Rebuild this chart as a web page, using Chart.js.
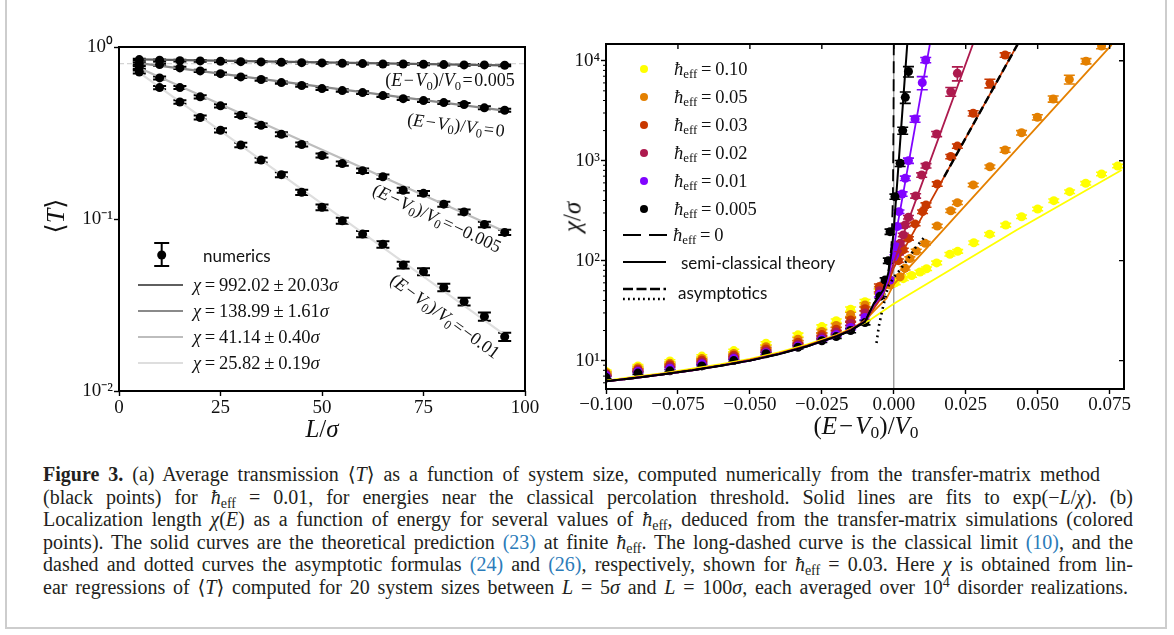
<!DOCTYPE html>
<html>
<head>
<meta charset="utf-8">
<title>Figure 3</title>
<script src="https://cdn.jsdelivr.net/npm/chart.js@4.4.1/dist/chart.umd.min.js"></script>
<style>
  html, body { margin: 0; padding: 0; background: #fff; }
  body { position: relative; width: 1174px; height: 635px; overflow: hidden;
         font-family: "Liberation Serif", "DejaVu Serif", serif; color: #111; }
  #frame { position: absolute; left: 5px; top: -10px; width: 1162px; height: 639px;
           border: 2px solid #cdcdcd; box-sizing: border-box; }
  canvas { position: absolute; top: 0; }
  .t { position: absolute; white-space: nowrap; line-height: 1; }
  .c { transform: translate(-50%, -50%); }
  .l { transform: translate(0, -50%); }
  .sans { font-family: Lato, "Open Sans", sans-serif; font-size: 17px; }
  .math { font-family: "Liberation Serif", serif; font-size: 18px; }
  .leg { font-family: "Liberation Serif", serif; font-size: 18.5px; }
  sub { font-size: 0.7em; vertical-align: -0.28em; line-height: 0; }
  sup { font-size: 0.7em; vertical-align: 0.5em; line-height: 0; }
  .dot { position: absolute; width: 8px; height: 8px; border-radius: 50%; transform: translate(-50%, -50%); }
  svg.k { position: absolute; overflow: visible; }
  .cap { position: absolute; left: 43px; white-space: nowrap; font-size: 20px; line-height: 22.6px; color: #231f20; }
  .cap a { color: #2b7bb9; text-decoration: none; }
</style>
</head>
<body>
<div id="frame"></div>
<canvas id="cA" width="560" height="440" style="left:0"></canvas>
<canvas id="cB" width="614" height="440" style="left:560px"></canvas>

<!-- panel (a) texts -->
<div class="t c" style="left:56px;top:216px;font-size:26px;transform:translate(-50%,-50%) rotate(-90deg)">⟨<i>T</i>⟩</div>
<div class="t c" style="left:322px;top:428px;font-size:25px"><i>L</i>/<i>σ</i></div>
<div class="t c math" style="left:450px;top:80px">(<i>E</i>&#8202;−&#8202;<i>V</i><sub>0</sub>)/<i>V</i><sub>0</sub>&#8202;=&#8202;0.005</div>
<div class="t math" style="left:456px;top:125px;transform:translate(-50%,-50%) rotate(7deg)">(<i>E</i>&#8202;−&#8202;<i>V</i><sub>0</sub>)/<i>V</i><sub>0</sub>&#8202;=&#8202;0</div>
<div class="t math" style="left:437px;top:218px;transform:translate(-50%,-50%) rotate(25deg)">(<i>E</i>&#8202;−&#8202;<i>V</i><sub>0</sub>)/<i>V</i><sub>0</sub>&#8202;=&#8202;−0.005</div>
<div class="t math" style="left:445px;top:316px;transform:translate(-50%,-50%) rotate(36deg)">(<i>E</i>&#8202;−&#8202;<i>V</i><sub>0</sub>)/<i>V</i><sub>0</sub>&#8202;=&#8202;−0.01</div>

<svg class="k" style="left:152px;top:241px" width="20" height="28">
  <line x1="9.7" y1="2" x2="9.7" y2="25" stroke="#000" stroke-width="2"/>
  <line x1="2.2" y1="2" x2="17.2" y2="2" stroke="#000" stroke-width="2"/>
  <line x1="2.2" y1="25" x2="17.2" y2="25" stroke="#000" stroke-width="2"/>
  <circle cx="9.7" cy="14" r="4.5" fill="#000"/>
</svg>
<div class="t l sans" style="left:203px;top:255px">numerics</div>
<svg class="k" style="left:138px;top:280px" width="46" height="10"><line x1="0" y1="5" x2="45" y2="5" stroke="#5f5f5f" stroke-width="2.2"/></svg>
<svg class="k" style="left:138px;top:306px" width="46" height="10"><line x1="0" y1="5" x2="45" y2="5" stroke="#8a8a8a" stroke-width="2.2"/></svg>
<svg class="k" style="left:138px;top:332px" width="46" height="10"><line x1="0" y1="5" x2="45" y2="5" stroke="#bdbdbd" stroke-width="2.2"/></svg>
<svg class="k" style="left:138px;top:358px" width="46" height="10"><line x1="0" y1="5" x2="45" y2="5" stroke="#dedede" stroke-width="2.2"/></svg>
<div class="t l leg" style="left:193px;top:285px"><i>χ</i>&#8201;=&#8201;992.02&#8201;±&#8201;20.03<i>σ</i></div>
<div class="t l leg" style="left:193px;top:311px"><i>χ</i>&#8201;=&#8201;138.99&#8201;±&#8201;1.61<i>σ</i></div>
<div class="t l leg" style="left:193px;top:337px"><i>χ</i>&#8201;=&#8201;41.14&#8201;±&#8201;0.40<i>σ</i></div>
<div class="t l leg" style="left:193px;top:363px"><i>χ</i>&#8201;=&#8201;25.82&#8201;±&#8201;0.19<i>σ</i></div>

<!-- panel (b) texts -->
<div class="t c" style="left:866px;top:425px;font-size:25px">(<i>E</i>&#8202;−&#8202;<i>V</i><sub>0</sub>)/<i>V</i><sub>0</sub></div>
<div class="t" style="left:572px;top:217px;font-size:25px;transform:translate(-50%,-50%) rotate(-90deg)"><i>χ</i>/<i>σ</i></div>

<div class="dot" style="left:644px;top:69px;background:#ffff00"></div>
<div class="dot" style="left:644px;top:97px;background:#e48000"></div>
<div class="dot" style="left:644px;top:125px;background:#c83800"></div>
<div class="dot" style="left:644px;top:153px;background:#ad1a4e"></div>
<div class="dot" style="left:644px;top:181px;background:#8004ff"></div>
<div class="dot" style="left:644px;top:209px;background:#000"></div>
<div class="t l leg" style="left:674px;top:69px"><i>ħ</i><sub>eff</sub>&#8201;=&#8201;0.10</div>
<div class="t l leg" style="left:674px;top:97px"><i>ħ</i><sub>eff</sub>&#8201;=&#8201;0.05</div>
<div class="t l leg" style="left:674px;top:125px"><i>ħ</i><sub>eff</sub>&#8201;=&#8201;0.03</div>
<div class="t l leg" style="left:674px;top:153px"><i>ħ</i><sub>eff</sub>&#8201;=&#8201;0.02</div>
<div class="t l leg" style="left:674px;top:181px"><i>ħ</i><sub>eff</sub>&#8201;=&#8201;0.01</div>
<div class="t l leg" style="left:674px;top:209px"><i>ħ</i><sub>eff</sub>&#8201;=&#8201;0.005</div>
<svg class="k" style="left:623px;top:230px" width="45" height="10"><line x1="0" y1="5" x2="44" y2="5" stroke="#000" stroke-width="2.2" stroke-dasharray="18 8"/></svg>
<div class="t l leg" style="left:673px;top:235px"><i>ħ</i><sub>eff</sub>&#8201;=&#8201;0</div>
<svg class="k" style="left:623px;top:257px" width="45" height="10"><line x1="0" y1="5" x2="43" y2="5" stroke="#000" stroke-width="2"/></svg>
<div class="t l sans" style="left:681px;top:262px">semi-classical theory</div>
<svg class="k" style="left:623px;top:284px" width="45" height="20">
  <line x1="0" y1="5" x2="43" y2="5" stroke="#000" stroke-width="2.4" stroke-dasharray="10 3.5"/>
  <line x1="0" y1="15" x2="43" y2="15" stroke="#000" stroke-width="2.4" stroke-dasharray="1.8 3.2"/>
</svg>
<div class="t l sans" style="left:678px;top:292px">asymptotics</div>

<!-- caption -->
<div class="cap" style="top:463px" data-w="1057"><span><b>Figure 3.</b> (a) Average transmission ⟨<i>T</i>⟩ as a function of system size, computed numerically from the transfer-matrix method</span></div>
<div class="cap" style="top:485.6px" data-w="1090"><span>(black points) for <i>ħ</i><sub>eff</sub> = 0.01, for energies near the classical percolation threshold. Solid lines are fits to exp(−<i>L</i>/<i>χ</i>). (b)</span></div>
<div class="cap" style="top:508.2px" data-w="1090"><span>Localization length <i>χ</i>(<i>E</i>) as a function of energy for several values of <i>ħ</i><sub>eff</sub>, deduced from the transfer-matrix simulations (colored</span></div>
<div class="cap" style="top:530.8px" data-w="1090"><span>points). The solid curves are the theoretical prediction <a>(23)</a> at finite <i>ħ</i><sub>eff</sub>. The long-dashed curve is the classical limit <a>(10)</a>, and the</span></div>
<div class="cap" style="top:553.4px" data-w="1090"><span>dashed and dotted curves the asymptotic formulas <a>(24)</a> and <a>(26)</a>, respectively, shown for <i>ħ</i><sub>eff</sub> = 0.03. Here <i>χ</i> is obtained from lin-</span></div>
<div class="cap" style="top:576px" data-w="1085"><span>ear regressions of ⟨<i>T</i>⟩ computed for 20 system sizes between <i>L</i> = 5<i>σ</i> and <i>L</i> = 100<i>σ</i>, each averaged over 10<sup>4</sup> disorder realizations.</span></div>

<script>
// ---------- panel (a): <T> vs L ----------
const sysL = [5, 10, 15, 20, 25, 30, 35, 40, 45, 50, 55, 60, 65, 70, 75, 80, 85, 90, 95];
const T_e005 = [0.845, 0.837, 0.833, 0.830, 0.826, 0.822, 0.819, 0.815, 0.811, 0.808, 0.804, 0.801, 0.797, 0.797, 0.794, 0.790, 0.787, 0.787, 0.783];
const T_e0 = [0.801, 0.790, 0.756, 0.726, 0.700, 0.670, 0.647, 0.621, 0.597, 0.573, 0.558, 0.543, 0.522, 0.501, 0.488, 0.475, 0.463, 0.443, 0.429];
const T_em005 = [0.759, 0.661, 0.581, 0.513, 0.455, 0.401, 0.351, 0.311, 0.271, 0.234, 0.210, 0.191, 0.176, 0.147, 0.141, 0.122, 0.110, 0.093, 0.0836];
const T_em01 = [0.716, 0.581, 0.479, 0.389, 0.328, 0.269, 0.220, 0.181, 0.143, 0.117, 0.0977, 0.0817, 0.0712, 0.054, 0.0494, 0.0400, 0.0331, 0.0271, 0.0207];
// relative error bars
const err_e005 = [0.012, 0.012, 0.012, 0.012, 0.012, 0.012, 0.012, 0.012, 0.012, 0.012, 0.012, 0.012, 0.012, 0.012, 0.012, 0.012, 0.012, 0.012, 0.012];
const err_e0 = [0.014, 0.014, 0.014, 0.015, 0.015, 0.015, 0.016, 0.016, 0.016, 0.017, 0.017, 0.017, 0.018, 0.018, 0.018, 0.019, 0.019, 0.02, 0.02];
const err_em005 = [0.018, 0.02, 0.02, 0.022, 0.022, 0.024, 0.024, 0.026, 0.026, 0.028, 0.028, 0.03, 0.03, 0.032, 0.032, 0.034, 0.034, 0.036, 0.036];
const err_em01 = [0.02, 0.022, 0.024, 0.026, 0.028, 0.03, 0.032, 0.034, 0.036, 0.038, 0.04, 0.042, 0.044, 0.046, 0.048, 0.05, 0.052, 0.054, 0.055];
// fit lines exp(-L/chi), read at both ends
const fitL = [5, 95];
const fit_e005 = [0.847, 0.781];
const fit_e0 = [0.805, 0.427];
const fit_em005 = [0.755, 0.0845];
const fit_em01 = [0.71, 0.0212];
const refLevel = 0.8;
const xTicksA = [0, 25, 50, 75, 100];
const yTicksA = [0.01, 0.1, 1];

// ---------- panel (b): chi vs (E-V0)/V0 ----------
const hbarColors = { h010: '#ffff00', h005: '#e48000', h003: '#c83800', h002: '#ad1a4e', h001: '#8004ff', h0005: '#000000' };
const negE = [-0.1, -0.0889, -0.0778, -0.0667, -0.0556, -0.0444, -0.0333, -0.025, -0.02, -0.015, -0.01, -0.005];
const negErr = [0.03, 0.03, 0.03, 0.03, 0.03, 0.035, 0.04, 0.04, 0.04, 0.05, 0.05, 0.06];
const chi010neg = [7.8, 8.85, 9.9, 11.1, 12.6, 14.9, 18.1, 21.9, 25.1, 32.7, 38.9, 49];
const chi005neg = [7.6, 8.5, 9.4, 10.5, 11.8, 13.8, 16.4, 19.6, 22.5, 29, 36, 52];
const chi003neg = [7.4, 8.2, 9.1, 10.1, 11.3, 13.1, 15.3, 18.2, 20.6, 25.5, 33, 55];
const chi002neg = [7.3, 8.0, 8.8, 9.7, 10.9, 12.5, 14.5, 17.2, 19.3, 23.5, 30, 50];
const chi001neg = [7.1, 7.8, 8.4, 9.3, 10.5, 12.0, 14.0, 16.4, 18.2, 21.5, 27, 46];
const chi0005neg = [6.8, 7.5, 7.9, 8.85, 10, 11.7, 13.6, 15.8, 17.4, 20, 24];
// [x, chi, relative error]
const chi010pos = [[0.0005, 60, 0.04], [0.0033, 66, 0.04], [0.0062, 71, 0.04], [0.0091, 77, 0.04], [0.0114, 83, 0.04], [0.0149, 95, 0.04], [0.0195, 116, 0.04], [0.0222, 124, 0.04], [0.0278, 151, 0.04], [0.0333, 184, 0.04], [0.0389, 227, 0.04], [0.0444, 275, 0.04], [0.05, 329, 0.04], [0.0556, 398, 0.04], [0.0611, 490, 0.04], [0.0667, 594, 0.04], [0.0722, 736, 0.04], [0.0778, 885, 0.04]];
const chi005pos = [[-0.0013, 57, 0.04], [0.0022, 69, 0.04], [0.0039, 84, 0.04], [0.0056, 105, 0.04], [0.0078, 125, 0.04], [0.0109, 149, 0.04], [0.0151, 222, 0.04], [0.0198, 316, 0.04], [0.0221, 380, 0.04], [0.0276, 572, 0.04], [0.0334, 870, 0.04], [0.0387, 1280, 0.05], [0.0444, 1905, 0.05], [0.0499, 2720, 0.06], [0.0554, 4140, 0.07], [0.061, 6500, 0.1], [0.0668, 9900, 0.06], [0.0722, 14000, 0.06]];
const chi003pos = [[-0.0013, 64, 0.04], [0.0016, 100, 0.04], [0.0033, 128, 0.04], [0.0051, 167, 0.04], [0.0074, 233, 0.04], [0.01, 309, 0.04], [0.0112, 360, 0.05], [0.0151, 585, 0.05], [0.0198, 1100, 0.05], [0.0221, 1400, 0.05], [0.0276, 2980, 0.06], [0.0334, 5940, 0.1], [0.0387, 11400, 0.05]];
const chi002pos = [[0.0016, 119, 0.04], [0.0022, 149, 0.04], [0.0033, 181, 0.04], [0.0039, 227, 0.04], [0.0051, 272, 0.04], [0.0076, 444, 0.05], [0.0097, 720, 0.05], [0.0112, 890, 0.05], [0.0149, 1850, 0.06], [0.0198, 4900, 0.1], [0.0221, 7480, 0.16]];
const chi001pos = [[-0.0013, 64, 0.04], [0.0004, 110, 0.04], [0.0008, 138, 0.04], [0.0012, 219, 0.04], [0.0018, 309, 0.04], [0.0029, 464, 0.05], [0.004, 667, 0.05], [0.0051, 1000, 0.06], [0.0074, 2610, 0.07], [0.0099, 6030, 0.15], [0.0111, 10160, 0.06]];
const chi0005pos = [[-0.0048, 44, 0.05], [-0.003, 64, 0.05], [-0.0019, 100, 0.06], [-0.0013, 195, 0.06], [0.0004, 437, 0.06], [0.0022, 940, 0.07], [0.0031, 2000, 0.08], [0.004, 4300, 0.13], [0.0051, 7800, 0.12]];

// theory curves: shared negative-side abscissae + tail [x, chi]
const curveX = [-0.1, -0.09, -0.08, -0.07, -0.06, -0.05, -0.04, -0.03, -0.02, -0.015, -0.01];
const th0005neg = [6.2, 6.7, 7.3, 8.0, 8.9, 10.0, 11.6, 13.9, 17.4, 20.0, 24.5];
const th0005tail = [[-0.007, 37], [-0.0036, 51], [-0.0019, 75], [-0.0008, 120], [0, 203], [0.0025, 2000], [0.0047, 14900]];
const th001neg = [6.2, 6.7, 7.3, 8.0, 8.9, 10.0, 11.6, 13.9, 17.4, 20.0, 24.5];
const th001tail = [[-0.007, 36], [-0.004, 46], [-0.002, 63], [0, 130], [0.001, 203], [0.0126, 14900]];
const th002neg = [6.2, 6.7, 7.3, 8.0, 8.9, 10.0, 11.7, 14.0, 17.5, 20.2, 24.8];
const th002tail = [[-0.007, 35], [-0.004, 44], [-0.0014, 72], [0.0039, 203], [0.0276, 14900]];
const th003neg = [6.2, 6.7, 7.3, 8.0, 8.9, 10.1, 11.7, 14.1, 17.6, 20.4, 25];
const th003tail = [[-0.007, 33], [-0.005, 40], [-0.002, 58], [0, 85], [0.0073, 203], [0.0432, 14900]];
const th005neg = [6.2, 6.8, 7.4, 8.1, 9.0, 10.2, 11.8, 14.2, 17.8, 20.6, 25.2];
const th005tail = [[-0.007, 31], [-0.0025, 42], [0, 58], [0.0172, 203], [0.0757, 14400]];
const th010neg = [6.3, 6.9, 7.5, 8.3, 9.2, 10.4, 12.1, 14.5, 18.0, 20.8, 24.0];
const th010tail = [[-0.0083, 25.5], [0, 37], [0.0427, 203], [0.0792, 807]];
const classicalTail = [[-0.007, 37], [-0.0036, 51], [-0.0019, 78], [-0.0008, 140], [-0.0003, 450], [-0.0001, 2500], [0, 15000]];
const asymDashed = [[0.0175, 690], [0.0432, 14900]];
const asymDotted = [[-0.006, 15], [-0.0052, 22], [-0.004, 32], [-0.002, 55], [0, 68], [0.0022, 81], [0.0045, 100], [0.0074, 133], [0.0105, 170]];
const xTicksB = [-0.1, -0.075, -0.05, -0.025, 0, 0.025, 0.05, 0.075];
const yTicksB = [10, 100, 1000, 10000];

// ---------- helpers ----------
const SUP = { '-': '⁻', '0': '⁰', '1': '¹', '2': '²', '3': '³', '4': '⁴' };
const pow10 = v => '10' + String(Math.round(Math.log10(v))).split('').map(c => SUP[c]).join('');
const dec3 = v => (v < -1e-9 ? '−' : '') + Math.abs(v).toFixed(3);
const tickFont = { family: "'Liberation Serif', serif", size: 19 };

function seriesA(vals, errs) {
  return sysL.map((l, i) => ({ x: l, y: vals[i], e: errs[i] }));
}
function fitA(ends) {
  return fitL.map((l, i) => ({ x: l, y: ends[i] }));
}
function seriesB(negVals, pos) {
  const out = negVals.map((v, i) => ({ x: negE[i], y: v, e: negErr[i] }));
  pos.forEach(p => out.push({ x: p[0], y: p[1], e: p[2] }));
  return out;
}
function curveB(negVals, tail) {
  const out = negVals ? negVals.map((v, i) => ({ x: curveX[i], y: v })) : [];
  tail.forEach(p => out.push({ x: p[0], y: p[1] }));
  return out;
}

function axis(extra) {
  return Object.assign({
    grid: { display: true, drawOnChartArea: false, drawTicks: true, tickLength: 5, tickWidth: 1.4, tickColor: '#000' },
    border: { display: false },
  }, extra);
}

// error bars drawn under the markers
const errorBars = {
  id: 'errorBars',
  beforeDatasetsDraw(chart) {
    const { ctx, chartArea: a } = chart;
    const ys = chart.scales.y;
    ctx.save();
    ctx.beginPath();
    ctx.rect(a.left, a.top, a.right - a.left, a.bottom - a.top);
    ctx.clip();
    chart.data.datasets.forEach((ds, i) => {
      if (!ds.errCap) return;
      const meta = chart.getDatasetMeta(i);
      ctx.strokeStyle = ds.pointBackgroundColor;
      ctx.lineWidth = ds.errWidth;
      meta.data.forEach((pt, j) => {
        const d = ds.data[j];
        const y1 = ys.getPixelForValue(d.y * (1 + d.e));
        const y2 = ys.getPixelForValue(d.y * (1 - d.e));
        ctx.beginPath();
        ctx.moveTo(pt.x, y1); ctx.lineTo(pt.x, y2);
        ctx.moveTo(pt.x - ds.errCap, y1); ctx.lineTo(pt.x + ds.errCap, y1);
        ctx.moveTo(pt.x - ds.errCap, y2); ctx.lineTo(pt.x + ds.errCap, y2);
        ctx.stroke();
      });
    });
    ctx.restore();
  }
};

// box, inner ticks, minor ticks, zero line
const frame = {
  id: 'frame',
  beforeDatasetsDraw(chart, args, opts) {
    if (!opts.zeroLine) return;
    const { ctx, chartArea: a } = chart;
    const x0 = chart.scales.x.getPixelForValue(0);
    ctx.save();
    ctx.strokeStyle = '#8a8a8a';
    ctx.lineWidth = 1.2;
    ctx.beginPath(); ctx.moveTo(x0, a.top); ctx.lineTo(x0, a.bottom); ctx.stroke();
    ctx.restore();
  },
  afterDraw(chart, args, opts) {
    const { ctx, chartArea: a } = chart;
    const xs = chart.scales.x, ys = chart.scales.y;
    ctx.save();
    ctx.strokeStyle = '#000';
    if (opts.inner) {
      ctx.lineWidth = 1.4;
      ctx.beginPath();
      xs.ticks.forEach(t => {
        const px = xs.getPixelForValue(t.value);
        ctx.moveTo(px, a.top); ctx.lineTo(px, a.top + 5);
      });
      ys.ticks.forEach(t => {
        const py = ys.getPixelForValue(t.value);
        ctx.moveTo(a.right, py); ctx.lineTo(a.right - 5, py);
      });
      ctx.stroke();
    }
    if (opts.minor) {
      ctx.lineWidth = 1;
      ctx.beginPath();
      for (let d = 1; d <= 10000; d *= 10) {
        for (let k = 2; k <= 9; k++) {
          const v = k * d;
          if (v < ys.min || v > ys.max) continue;
          const py = ys.getPixelForValue(v);
          ctx.moveTo(a.left, py); ctx.lineTo(a.left - 3, py);
        }
      }
      ctx.stroke();
    }
    ctx.lineWidth = 2;
    ctx.strokeRect(a.left, a.top, a.right - a.left, a.bottom - a.top);
    ctx.restore();
  }
};

const common = {
  responsive: false,
  animation: false,
  devicePixelRatio: 1,
  events: [],
};

// ---------- chart (a) ----------
function ptsA(vals, errs) {
  return { data: seriesA(vals, errs), showLine: false, pointRadius: 4.5, pointBackgroundColor: '#000',
           pointBorderColor: '#000', pointBorderWidth: 0, errCap: 6.5, errWidth: 2, order: 1, clip: 0 };
}
function lineA(ends, color) {
  return { data: fitA(ends), showLine: true, pointRadius: 0, borderColor: color, borderWidth: 2.2, order: 2, clip: 0 };
}

new Chart(document.getElementById('cA'), {
  type: 'scatter',
  data: {
    datasets: [
      { data: [{ x: 0, y: refLevel }, { x: 100, y: refLevel }], showLine: true, pointRadius: 0,
        borderColor: '#d4d4d4', borderWidth: 1.2, borderDash: [5, 3], order: 3, clip: 0 },
      lineA(fit_e005, '#5f5f5f'),
      lineA(fit_e0, '#8a8a8a'),
      lineA(fit_em005, '#bdbdbd'),
      lineA(fit_em01, '#dedede'),
      ptsA(T_e005, err_e005),
      ptsA(T_e0, err_e0),
      ptsA(T_em005, err_em005),
      ptsA(T_em01, err_em01),
    ]
  },
  options: Object.assign({}, common, {
    layout: { padding: { left: 0, right: 35, top: 47, bottom: 0 } },
    plugins: { legend: { display: false }, tooltip: { enabled: false }, frame: {} },
    scales: {
      x: axis({
        type: 'linear', min: 0, max: 100,
        afterBuildTicks: s => { s.ticks = xTicksA.map(v => ({ value: v })); },
        afterFit: s => { s.height = 49; },
        ticks: { font: tickFont, color: '#111', padding: 1, maxRotation: 0, autoSkip: false, callback: v => String(v) },
      }),
      y: axis({
        type: 'logarithmic', min: 0.01, max: 1,
        afterBuildTicks: s => { s.ticks = yTicksA.map(v => ({ value: v, major: true })); },
        afterFit: s => { s.width = 119; },
        ticks: { font: tickFont, color: '#111', padding: 1, autoSkip: false, callback: v => pow10(v) },
      }),
    }
  }),
  plugins: [frame, errorBars]
});

// ---------- chart (b) ----------
function ptsB(data, color, order) {
  return { data: data, showLine: false, pointRadius: 4.5, pointBackgroundColor: color, pointBorderColor: color,
           pointBorderWidth: 0, errCap: 5.5, errWidth: 1.6, order: order, clip: 0 };
}
function lineB(data, color, width, dash, order) {
  return { data: data, showLine: true, pointRadius: 0, borderColor: color, borderWidth: width,
           borderDash: dash || [], order: order, clip: 0 };
}

new Chart(document.getElementById('cB'), {
  type: 'scatter',
  data: {
    datasets: [
      lineB(curveB(th0005neg, classicalTail), '#000', 1.8, [12, 6], 0),
      lineB(curveB(null, asymDashed), '#000', 2.4, [8, 4], 0),
      lineB(curveB(null, asymDotted), '#000', 2.6, [1.8, 4], 0),
      lineB(curveB(th0005neg, th0005tail), hbarColors.h0005, 2, null, 1),
      lineB(curveB(th001neg, th001tail), hbarColors.h001, 1.8, null, 2),
      lineB(curveB(th002neg, th002tail), hbarColors.h002, 1.8, null, 3),
      lineB(curveB(th003neg, th003tail), hbarColors.h003, 1.8, null, 4),
      lineB(curveB(th005neg, th005tail), hbarColors.h005, 1.8, null, 5),
      lineB(curveB(th010neg, th010tail), hbarColors.h010, 1.8, null, 6),
      ptsB(seriesB(chi0005neg, chi0005pos), hbarColors.h0005, 10),
      ptsB(seriesB(chi001neg, chi001pos), hbarColors.h001, 11),
      ptsB(seriesB(chi002neg, chi002pos), hbarColors.h002, 12),
      ptsB(seriesB(chi003neg, chi003pos), hbarColors.h003, 13),
      ptsB(seriesB(chi005neg, chi005pos), hbarColors.h005, 14),
      ptsB(seriesB(chi010neg, chi010pos), hbarColors.h010, 15),
    ]
  },
  options: Object.assign({}, common, {
    layout: { padding: { left: 0, right: 50, top: 44, bottom: 0 } },
    plugins: { legend: { display: false }, tooltip: { enabled: false }, frame: { inner: true, minor: true, zeroLine: true } },
    scales: {
      x: axis({
        type: 'linear', min: -0.1, max: 0.08,
        afterBuildTicks: s => { s.ticks = xTicksB.map(v => ({ value: v })); },
        afterFit: s => { s.height = 51; },
        ticks: { font: tickFont, color: '#111', padding: 0, maxRotation: 0, autoSkip: false, callback: v => dec3(v) },
      }),
      y: axis({
        type: 'logarithmic', min: 5.2, max: 14700,
        afterBuildTicks: s => { s.ticks = yTicksB.map(v => ({ value: v, major: true })); },
        afterFit: s => { s.width = 46; },
        ticks: { font: tickFont, color: '#111', padding: 1, autoSkip: false, callback: v => pow10(v) },
      }),
    }
  }),
  plugins: [frame, errorBars]
});

// stretch each caption line to its measured width
document.querySelectorAll('.cap').forEach(el => {
  const span = el.firstElementChild;
  const n = (span.textContent.match(/ /g) || []).length;
  const w = span.getBoundingClientRect().width;
  span.style.wordSpacing = ((+el.dataset.w - w) / n) + 'px';
});
</script>
</body>
</html>
